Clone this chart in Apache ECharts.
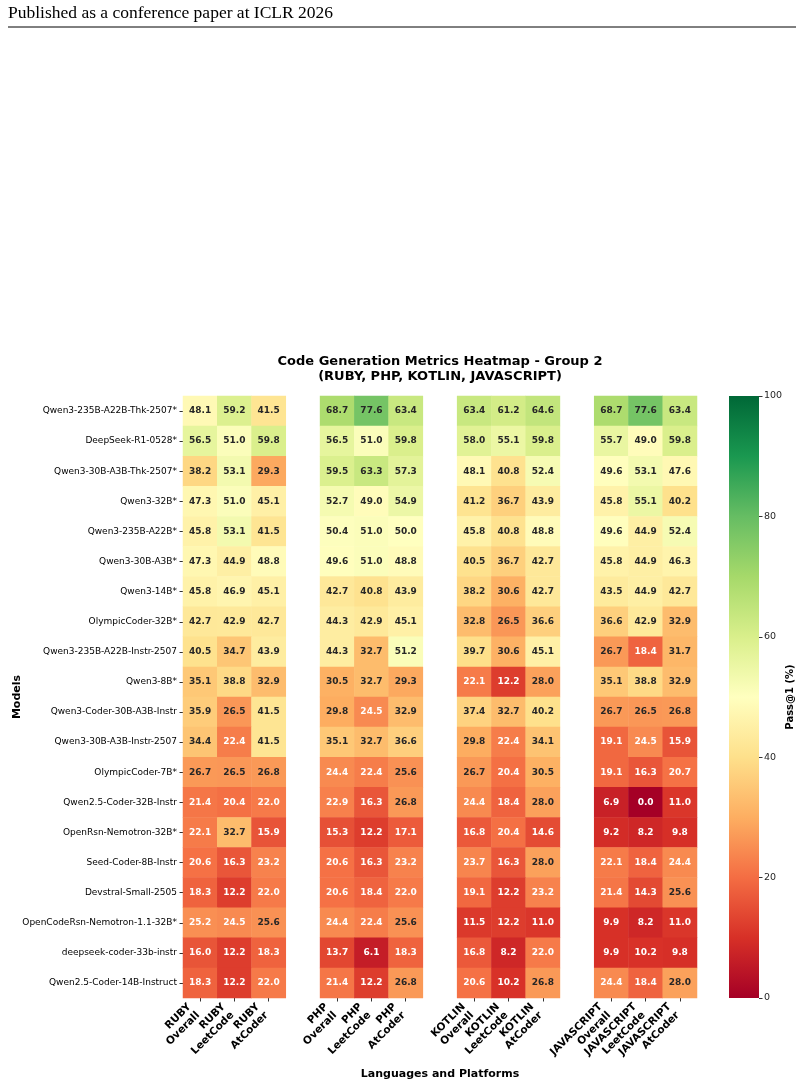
<!DOCTYPE html>
<html>
<head>
<meta charset="utf-8">
<title>Code Generation Metrics Heatmap - Group 2</title>
<script src="https://cdn.jsdelivr.net/npm/echarts@6/dist/echarts.min.js"></script>
<style>
  html, body { margin: 0; padding: 0; background: #fff; }
  #chart { width: 804px; height: 1087px; }
</style>
</head>
<body>
<div id="chart"></div>
<script>
// rows, top to bottom
const models = [
  'Qwen3-235B-A22B-Thk-2507*',
  'DeepSeek-R1-0528*',
  'Qwen3-30B-A3B-Thk-2507*',
  'Qwen3-32B*',
  'Qwen3-235B-A22B*',
  'Qwen3-30B-A3B*',
  'Qwen3-14B*',
  'OlympicCoder-32B*',
  'Qwen3-235B-A22B-Instr-2507',
  'Qwen3-8B*',
  'Qwen3-Coder-30B-A3B-Instr',
  'Qwen3-30B-A3B-Instr-2507',
  'OlympicCoder-7B*',
  'Qwen2.5-Coder-32B-Instr',
  'OpenRsn-Nemotron-32B*',
  'Seed-Coder-8B-Instr',
  'Devstral-Small-2505',
  'OpenCodeRsn-Nemotron-1.1-32B*',
  'deepseek-coder-33b-instr',
  'Qwen2.5-Coder-14B-Instruct'
]

const languages = ['RUBY', 'PHP', 'KOTLIN', 'JAVASCRIPT']
const platforms = ['Overall', 'LeetCode', 'AtCoder']

// each row: Overall, LeetCode, AtCoder (one row per model)
const ruby = [
  [48.1, 59.2, 41.5], [56.5, 51.0, 59.8], [38.2, 53.1, 29.3], [47.3, 51.0, 45.1],
  [45.8, 53.1, 41.5], [47.3, 44.9, 48.8], [45.8, 46.9, 45.1], [42.7, 42.9, 42.7],
  [40.5, 34.7, 43.9], [35.1, 38.8, 32.9], [35.9, 26.5, 41.5], [34.4, 22.4, 41.5],
  [26.7, 26.5, 26.8], [21.4, 20.4, 22.0], [22.1, 32.7, 15.9], [20.6, 16.3, 23.2],
  [18.3, 12.2, 22.0], [25.2, 24.5, 25.6], [16.0, 12.2, 18.3], [18.3, 12.2, 22.0]
]
const php = [
  [68.7, 77.6, 63.4], [56.5, 51.0, 59.8], [59.5, 63.3, 57.3], [52.7, 49.0, 54.9],
  [50.4, 51.0, 50.0], [49.6, 51.0, 48.8], [42.7, 40.8, 43.9], [44.3, 42.9, 45.1],
  [44.3, 32.7, 51.2], [30.5, 32.7, 29.3], [29.8, 24.5, 32.9], [35.1, 32.7, 36.6],
  [24.4, 22.4, 25.6], [22.9, 16.3, 26.8], [15.3, 12.2, 17.1], [20.6, 16.3, 23.2],
  [20.6, 18.4, 22.0], [24.4, 22.4, 25.6], [13.7, 6.1, 18.3], [21.4, 12.2, 26.8]
]
const kotlin = [
  [63.4, 61.2, 64.6], [58.0, 55.1, 59.8], [48.1, 40.8, 52.4], [41.2, 36.7, 43.9],
  [45.8, 40.8, 48.8], [40.5, 36.7, 42.7], [38.2, 30.6, 42.7], [32.8, 26.5, 36.6],
  [39.7, 30.6, 45.1], [22.1, 12.2, 28.0], [37.4, 32.7, 40.2], [29.8, 22.4, 34.1],
  [26.7, 20.4, 30.5], [24.4, 18.4, 28.0], [16.8, 20.4, 14.6], [23.7, 16.3, 28.0],
  [19.1, 12.2, 23.2], [11.5, 12.2, 11.0], [16.8, 8.2, 22.0], [20.6, 10.2, 26.8]
]
const javascript = [
  [68.7, 77.6, 63.4], [55.7, 49.0, 59.8], [49.6, 53.1, 47.6], [45.8, 55.1, 40.2],
  [49.6, 44.9, 52.4], [45.8, 44.9, 46.3], [43.5, 44.9, 42.7], [36.6, 42.9, 32.9],
  [26.7, 18.4, 31.7], [35.1, 38.8, 32.9], [26.7, 26.5, 26.8], [19.1, 24.5, 15.9],
  [19.1, 16.3, 20.7], [6.9, 0.0, 11.0], [9.2, 8.2, 9.8], [22.1, 18.4, 24.4],
  [21.4, 14.3, 25.6], [9.9, 8.2, 11.0], [9.9, 10.2, 9.8], [24.4, 18.4, 28.0]
]

const colorbarTicks = [0, 20, 40, 60, 80, 100]

// RdYlGn
const rdYlGn = ['#a50026', '#d73027', '#f46d43', '#fdae61', '#fee08b', '#ffffbf',
  '#d9ef8b', '#a6d96a', '#66bd63', '#1a9850', '#006837']

const groups = [ruby, php, kotlin, javascript]

// x categories: 3 columns per language, one blank column between languages
const xCats = []
languages.forEach((lang, g) => {
  platforms.forEach(p => xCats.push(lang + '\n' + p))
  if (g < languages.length - 1) xCats.push(' '.repeat(g + 1))
})

const cells = []
groups.forEach((rows, g) => {
  rows.forEach((row, r) => {
    row.forEach((v, m) => {
      cells.push({
        value: [g * 4 + m, r, v],
        label: { color: v < 25.4 ? '#ffffff' : '#262626' }
      })
    })
  })
})

const FONT = 'DejaVu Sans'
const gridTop = 396
const gridH = 602
const cbLeft = 729
const cbWidth = 30

// colorbar gradient, top (100) to bottom (0)
const cbStops = rdYlGn.map((c, i) => ({ offset: 1 - i / (rdYlGn.length - 1), color: c })).reverse()

const chart = echarts.init(document.getElementById('chart'))
chart.setOption({
  backgroundColor: '#fff',
  animation: false,
  textStyle: { fontFamily: FONT },
  title: {
    text: 'Code Generation Metrics Heatmap - Group 2\n(RUBY, PHP, KOTLIN, JAVASCRIPT)',
    left: 440,
    top: 354,
    textAlign: 'center',
    padding: 0,
    textStyle: {
      fontFamily: FONT,
      fontSize: 13,
      fontWeight: 'bold',
      color: '#000',
      lineHeight: 15,
      align: 'center'
    }
  },
  graphic: [
    {
      type: 'text',
      left: 8,
      top: 4,
      style: {
        text: 'Published as a conference paper at ICLR 2026',
        font: '17.5px "Liberation Serif", "Times New Roman", serif',
        fill: '#000'
      }
    },
    {
      type: 'line',
      shape: { x1: 8, y1: 27, x2: 796, y2: 27 },
      style: { stroke: '#000', lineWidth: 1 }
    },
    {
      type: 'rect',
      shape: { x: cbLeft, y: gridTop, width: cbWidth, height: gridH },
      style: { fill: new echarts.graphic.LinearGradient(0, 0, 0, 1, cbStops) },
      silent: true
    }
  ],
  grid: [
    { left: 183, top: gridTop, width: 514, height: gridH, containLabel: false, outerBoundsMode: 'none' },
    { left: cbLeft, top: gridTop, width: cbWidth, height: gridH, containLabel: false, outerBoundsMode: 'none' }
  ],
  xAxis: [
    {
      type: 'category',
      gridIndex: 0,
      data: xCats,
      position: 'bottom',
      splitArea: { show: false },
      axisLine: { show: false },
      axisTick: {
        show: true,
        alignWithLabel: true,
        length: 3.5,
        interval: (i, v) => v.trim() !== '',
        lineStyle: { color: '#333' }
      },
      axisLabel: {
        interval: 0,
        rotate: 45,
        margin: 5,
        fontFamily: FONT,
        fontSize: 10.5,
        fontWeight: 'bold',
        color: '#000',
        lineHeight: 12,
        padding: [0, 9, 0, 0]
      },
      name: 'Languages and Platforms',
      nameLocation: 'middle',
      nameGap: 71,
      nameMoveOverlap: false,
      nameTextStyle: { fontFamily: FONT, fontSize: 11, fontWeight: 'bold', color: '#000' }
    },
    { type: 'value', gridIndex: 1, show: false, min: 0, max: 1 }
  ],
  yAxis: [
    {
      type: 'category',
      gridIndex: 0,
      data: models,
      inverse: true,
      splitArea: { show: false },
      axisLine: { show: false },
      axisTick: { show: true, alignWithLabel: true, length: 3.5, lineStyle: { color: '#333' } },
      axisLabel: { interval: 0, margin: 6, fontFamily: FONT, fontSize: 9, color: '#000' },
      name: 'Models',
      nameLocation: 'middle',
      nameRotate: 90,
      nameGap: 160,
      nameMoveOverlap: false,
      nameTextStyle: { fontFamily: FONT, fontSize: 11, fontWeight: 'bold', color: '#000' }
    },
    {
      type: 'value',
      gridIndex: 1,
      position: 'right',
      min: colorbarTicks[0],
      max: colorbarTicks[colorbarTicks.length - 1],
      interval: colorbarTicks[1] - colorbarTicks[0],
      axisLine: { show: false, onZero: false },
      splitLine: { show: false },
      axisTick: { show: true, length: 3.5, lineStyle: { color: '#333' } },
      axisLabel: { margin: 5, fontFamily: FONT, fontSize: 9.5, color: '#262626' },
      name: 'Pass@1 (%)',
      nameLocation: 'middle',
      nameRotate: 90,
      nameGap: 26,
      nameMoveOverlap: false,
      nameTextStyle: { fontFamily: FONT, fontSize: 10, fontWeight: 'bold', color: '#000' }
    }
  ],
  visualMap: {
    type: 'continuous',
    show: false,
    seriesIndex: 0,
    min: 0,
    max: 100,
    inRange: { color: rdYlGn }
  },
  series: [
    {
      type: 'heatmap',
      xAxisIndex: 0,
      yAxisIndex: 0,
      data: cells,
      label: {
        show: true,
        fontFamily: FONT,
        fontSize: 9,
        fontWeight: 'bold',
        formatter: p => p.value[2].toFixed(1)
      },
      itemStyle: { borderWidth: 0 },
      emphasis: { disabled: true }
    }
  ]
})
</script>
</body>
</html>
